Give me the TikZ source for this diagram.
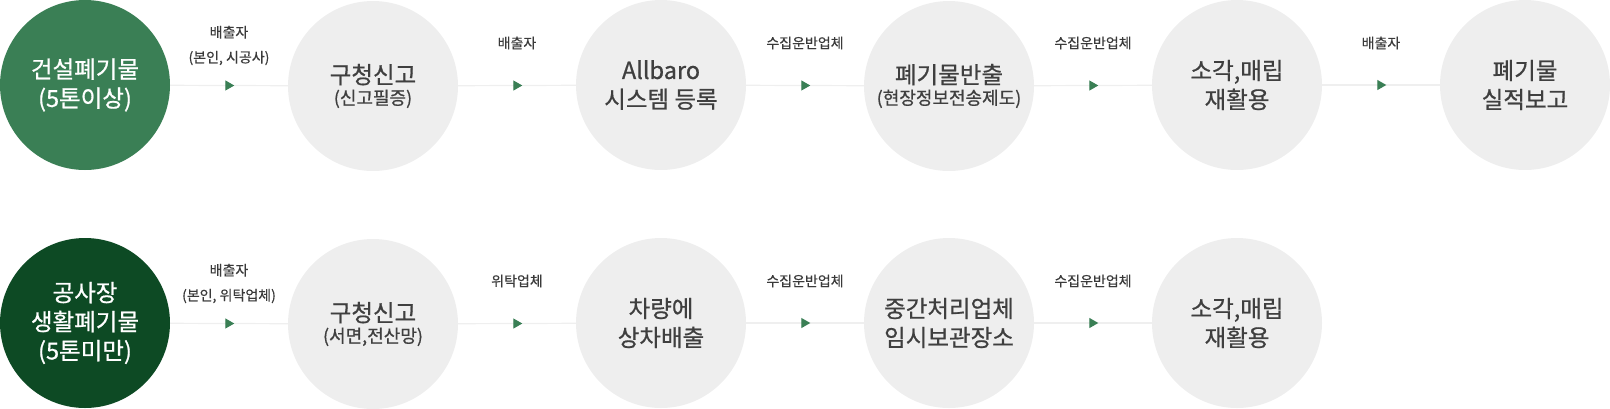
\documentclass[tikz,border=0pt]{standalone}
\usepackage{fontspec}
\setmainfont{Noto Sans CJK KR}
\newfontfamily\heavyfont[FakeBold=0.7]{Noto Sans CJK KR}
\newfontfamily\midfont[FakeBold=0.4]{Noto Sans CJK KR}
\usetikzlibrary{decorations.markings,arrows.meta}
\definecolor{gcircle}{HTML}{EEEEEE}
\definecolor{lgreen}{HTML}{3A7F55}
\definecolor{dgreen}{HTML}{0D4A24}
\definecolor{txt}{HTML}{3F3F3F}
\definecolor{lab}{HTML}{3A3A3A}
\definecolor{conn}{HTML}{EFEFEF}
\newcommand{\subline}[1]{{\fontsize{18}{20}\selectfont #1}}
\tikzset{
  stage/.style={circle,minimum size=170pt,inner sep=0pt,fill=gcircle,text=txt,align=center,
    font=\heavyfont\fontsize{23.5}{29}\selectfont},
  startA/.style={stage,fill=lgreen,text=white},
  startB/.style={stage,fill=dgreen,text=white},
  lbl/.style={text=lab,align=center,font=\midfont\fontsize{14}{25}\selectfont,inner sep=0pt},
  flow/.style={draw=conn,line width=1.2pt,
    postaction={decorate,decoration={markings,
      mark=at position 0.545 with {\arrow[lgreen]{Triangle[length=9pt,width=10pt]}}}}}
}
\begin{document}
\begin{tikzpicture}[x=1pt,y=-1pt]
\useasboundingbox (0,0) rectangle (1610,408);
% row 1
\node[startA] (a1) at (85,85) {건설폐기물\\(5톤이상)};
\node[stage] (a2) at (373,86) {구청신고\\[-8pt]\subline{(신고필증)}};
\node[stage] (a3) at (661,85) {Allbaro\\시스템 등록};
\node[stage] (a4) at (949,86) {폐기물반출\\[-8pt]\subline{(현장정보전송제도)}};
\node[stage] (a5) at (1237,85) {소각,매립\\재활용};
\node[stage] (a6) at (1525,85) {폐기물\\실적보고};
\draw[flow] (a1) -- (a2);
\draw[flow] (a2) -- (a3);
\draw[flow] (a3) -- (a4);
\draw[flow] (a4) -- (a5);
\draw[flow] (a5) -- (a6);
\node[lbl] (la1) at (229,45.5) {배출자\\(본인, 시공사)};
\node[lbl] (la2) at (517,43) {배출자};
\node[lbl] (la3) at (805,43) {수집운반업체};
\node[lbl] (la4) at (1093,43) {수집운반업체};
\node[lbl] (la5) at (1381,43) {배출자};
% row 2
\node[startB] (b1) at (85,323) {공사장\\생활폐기물\\(5톤미만)};
\node[stage] (b2) at (373,324) {구청신고\\[-8pt]\subline{(서면,전산망)}};
\node[stage] (b3) at (661,323) {차량에\\상차배출};
\node[stage] (b4) at (949,323) {중간처리업체\\임시보관장소};
\node[stage] (b5) at (1237,323) {소각,매립\\재활용};
\draw[flow] (b1) -- (b2);
\draw[flow] (b2) -- (b3);
\draw[flow] (b3) -- (b4);
\draw[flow] (b4) -- (b5);
\node[lbl] (lb1) at (229,283.5) {배출자\\(본인, 위탁업체)};
\node[lbl] (lb2) at (517,281) {위탁업체};
\node[lbl] (lb3) at (805,281) {수집운반업체};
\node[lbl] (lb4) at (1093,281) {수집운반업체};
\end{tikzpicture}
\end{document}
